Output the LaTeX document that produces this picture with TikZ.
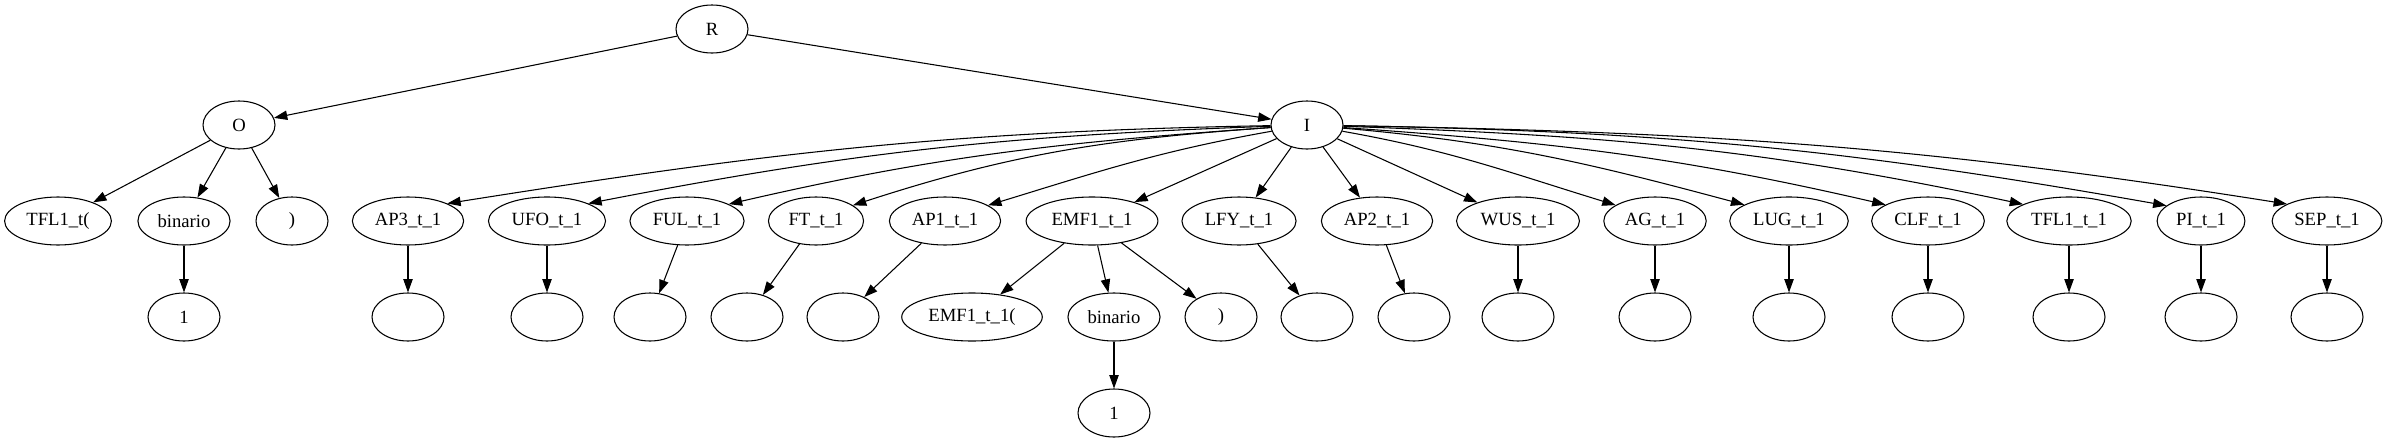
\documentclass[tikz,border=0pt]{standalone}
\usepackage{fontspec}
\setmainfont{Liberation Serif}
\usetikzlibrary{arrows.meta,positioning,shapes.geometric}

\begin{document}
\begin{tikzpicture}[x=0.75pt,y=0.75pt,node distance=72pt,on grid,line width=0.8pt,
  >={Triangle[length=10pt,width=7pt]},
  tok/.style={ellipse,draw,minimum width=54pt,minimum height=36pt,inner xsep=4.6pt,inner ysep=2pt,font=\fontsize{14pt}{16pt}\selectfont}]
\useasboundingbox (0,0) rectangle (2388,-443);
\node[tok] (R) at (712,-29) {R};
\node[tok] (O) at (239,-125) {O};
\node[tok] (I) at (1307,-125) {I};
\node[tok] (tflo) at (58,-221) {TFL1\_t(};
\node[tok] (bino) at (184,-221) {binario};
\node[tok] (clo) at (292,-221) {)};
\node[tok] (one_o) [below=of bino] {1};
\node[tok] (ap3) at (408,-221) {AP3\_t\_1};
\node[tok] (ufo) at (547,-221) {UFO\_t\_1};
\node[tok] (ful) at (687,-221) {FUL\_t\_1};
\node[tok] (ft) at (816,-221) {FT\_t\_1};
\node[tok] (ap1) at (945,-221) {AP1\_t\_1};
\node[tok] (emf) at (1092,-221) {EMF1\_t\_1};
\node[tok] (lfy) at (1239,-221) {LFY\_t\_1};
\node[tok] (ap2) at (1377,-221) {AP2\_t\_1};
\node[tok] (wus) at (1518,-221) {WUS\_t\_1};
\node[tok] (ag) at (1655,-221) {AG\_t\_1};
\node[tok] (lug) at (1789,-221) {LUG\_t\_1};
\node[tok] (clf) at (1928,-221) {CLF\_t\_1};
\node[tok] (tfl) at (2069,-221) {TFL1\_t\_1};
\node[tok] (pit) at (2201,-221) {PI\_t\_1};
\node[tok] (sep) at (2327,-221) {SEP\_t\_1};
% third row
\node[tok] (ap3_c) [below=of ap3] {};
\node[tok] (ufo_c) [below=of ufo] {};
\node[tok] (ful_c) at (650,-317) {};
\node[tok] (ft_c) at (747,-317) {};
\node[tok] (ap1_c) at (843,-317) {};
\node[tok] (emfo) at (972,-317) {EMF1\_t\_1(};
\node[tok] (bine) at (1114,-317) {binario};
\node[tok] (cle) at (1221,-317) {)};
\node[tok] (one_e) [below=of bine] {1};
\node[tok] (lfy_c) at (1317,-317) {};
\node[tok] (ap2_c) at (1414,-317) {};
\node[tok] (wus_c) [below=of wus] {};
\node[tok] (ag_c) [below=of ag] {};
\node[tok] (lug_c) [below=of lug] {};
\node[tok] (clf_c) [below=of clf] {};
\node[tok] (tfl_c) [below=of tfl] {};
\node[tok] (pit_c) [below=of pit] {};
\node[tok] (sep_c) [below=of sep] {};
\path[->]
(R) edge (O)
(R) edge (I)
(O) edge (tflo)
(O) edge (bino)
(O) edge (clo)
(bino) edge (one_o)
(I) edge [out=181,in=9] (ap3.24)
(I) edge [out=182,in=11] (ufo.23)
(I) edge [out=184,in=13] (ful.22)
(I) edge [out=184,in=18] (ft.23)
(I) edge [out=190,in=17] (ap1.20)
(I) edge (emf)
(I) edge (lfy)
(I) edge (ap2)
(I) edge (wus)
(I) edge [out=-10,in=163] (ag.158)
(I) edge [out=-5,in=165] (lug.160)
(I) edge [out=-4,in=167] (clf.159)
(I) edge [out=-2,in=168] (tfl.160)
(I) edge [out=-1,in=170] (pit.156)
(I) edge [out=-1,in=171] (sep.157)
(ap3) edge (ap3_c)
(ufo) edge (ufo_c)
(ful) edge (ful_c)
(ft) edge (ft_c)
(ap1) edge (ap1_c)
(emf) edge (emfo)
(emf) edge (bine)
(emf) edge (cle)
(bine) edge (one_e)
(lfy) edge (lfy_c)
(ap2) edge (ap2_c)
(wus) edge (wus_c)
(ag) edge (ag_c)
(lug) edge (lug_c)
(clf) edge (clf_c)
(tfl) edge (tfl_c)
(pit) edge (pit_c)
(sep) edge (sep_c);
\end{tikzpicture}
\end{document}
